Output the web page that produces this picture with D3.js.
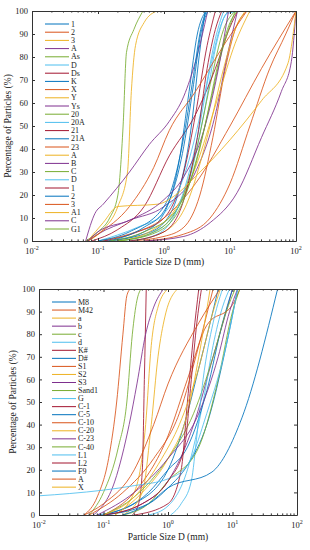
<!DOCTYPE html>
<html>
<head>
<meta charset="utf-8">
<script src="https://cdn.jsdelivr.net/npm/d3@7"></script>
<style>
  body { margin: 0; background: #fff; }
  svg text { font-family: "Liberation Serif", "Times New Roman", serif; fill: #222; }
</style>
</head>
<body>
<svg width="310" height="550"></svg>
<script>
// MATLAB default line colours
var colors = ['#0072BD', '#D95319', '#EDB120', '#7E2F8E', '#77AC30', '#4DBEEE', '#A2142F'];

var xTicks = [0.01, 0.1, 1, 10, 100];
var xExp = ['-2', '-1', '0', '1', '2'];
var yTicks = [0, 10, 20, 30, 40, 50, 60, 70, 80, 90, 100];

var topNames = ['1', '2', '3', 'A', 'As', 'D', 'Ds', 'K', 'X', 'Y', 'Ys', '20', '20A', '21', '21A', '23',
  'A', 'B', 'C', 'D', '1', '2', '3', 'A1', 'C', 'G1'];

// [particle size (mm), percentage passing]
var topCurves = [
  [[0.12, 0], [0.5, 3], [1, 8], [1.8, 25], [2.6, 50], [3.4, 80], [4.2, 100]],
  [[0.3, 0], [1, 2], [2, 6], [3.5, 20], [5.5, 45], [8.5, 75], [12, 92], [18, 100]],
  [[0.07, 0], [0.12, 5], [0.2, 15], [0.28, 30], [0.32, 65], [0.37, 85], [0.5, 95], [0.78, 100]],
  [[0.07, 0], [0.1, 3], [0.3, 9], [1, 15], [3, 30], [6, 55], [9, 80], [13, 100]],
  [[0.065, 0], [0.1, 4], [0.15, 10], [0.2, 20], [0.24, 50], [0.27, 82], [0.35, 92], [0.48, 100]],
  [[0.2, 0], [0.6, 3], [1.2, 9], [2.5, 28], [4, 55], [6.5, 88], [9, 99], [19, 100]],
  [[0.12, 0], [0.4, 4], [1, 10], [2, 30], [3, 55], [4.5, 85], [6, 100]],
  [[0.15, 0], [0.5, 4], [1, 12], [1.7, 35], [2.4, 65], [3.2, 90], [4.3, 100]],
  [[0.1, 0], [0.3, 3], [1, 10], [3, 25], [10, 50], [30, 75], [100, 100]],
  [[0.2, 0], [0.6, 4], [1.5, 14], [3, 32], [6.5, 62], [12, 86], [20, 100]],
  [[0.065, 0], [0.09, 12], [0.12, 16], [0.3, 30], [0.6, 42], [1.2, 52], [2, 63], [3, 78], [4.6, 100]],
  [[0.2, 0], [0.7, 4], [1.6, 14], [3, 38], [5, 68], [8, 92], [12, 100]],
  [[0.1, 0], [0.4, 6], [1, 12], [2, 28], [4, 62], [6, 88], [8, 100]],
  [[0.08, 0], [0.2, 5], [0.5, 15], [1.2, 37], [3, 55], [6, 75], [10, 93], [13, 100]],
  [[0.15, 0], [0.5, 6], [1, 13], [1.9, 38], [2.8, 68], [3.6, 90], [4.6, 100]],
  [[0.5, 0], [2, 3], [5, 10], [10, 25], [20, 50], [40, 75], [70, 90], [100, 100]],
  [[0.3, 0], [1, 4], [2.2, 16], [4.5, 45], [8, 75], [12, 92], [17, 100]],
  [[0.5, 0], [2, 2], [5, 8], [12.8, 21], [30, 45], [60, 65], [85, 78], [100, 100]],
  [[0.15, 0], [0.5, 4], [1.5, 13], [3, 33], [5, 60], [8, 85], [12, 100]],
  [[0.3, 0], [0.8, 3], [1.6, 14], [3.2, 45], [5, 75], [7.5, 95], [9.5, 100]],
  [[0.3, 0], [1, 4], [2, 18], [3.2, 45], [4.5, 75], [6, 92], [7.5, 100]],
  [[0.1, 0], [0.3, 4], [1, 15], [1.9, 42], [2.8, 72], [3.6, 92], [4.4, 100]],
  [[0.07, 0], [0.1, 3], [0.3, 15], [0.7, 32], [1.2, 48], [3, 65], [8, 85], [18, 100]],
  [[0.07, 0], [0.12, 8], [0.2, 15], [0.8, 16], [1.5, 20], [3, 28], [10, 44], [30, 61], [75, 77], [100, 100]],
  [[0.07, 0], [0.1, 4], [0.3, 9], [1, 18], [2, 28], [4, 48], [7, 78], [9.5, 100]],
  [[0.2, 0], [0.8, 4], [2, 18], [4, 48], [7, 80], [10, 95], [13, 100]]
];

var bottomNames = ['M8', 'M42', 'a', 'b', 'c', 'd', 'K#', 'D#', 'S1', 'S2', 'S3', 'Sand1', 'G', 'C-1', 'C-5',
  'C-10', 'C-20', 'C-23', 'C-40', 'L1', 'L2', 'F9', 'A', 'X'];

var bottomCurves = [
  [[0.08, 0], [0.3, 5], [1, 20], [2, 45], [3, 65], [4.5, 85], [6, 100]],
  [[0.05, 0], [0.08, 8], [0.12, 25], [0.16, 50], [0.2, 80], [0.23, 97], [0.26, 100]],
  [[0.15, 0], [0.3, 10], [0.45, 40], [0.55, 75], [0.7, 92], [1.0, 100]],
  [[0.1, 0], [0.4, 5], [1, 15], [2.5, 40], [5, 70], [8, 90], [10, 100]],
  [[0.06, 0], [0.1, 10], [0.17, 30], [0.23, 50], [0.28, 80], [0.33, 95], [0.38, 100]],
  [[0.5, 0], [1, 4], [2, 20], [3.5, 50], [5, 75], [7, 92], [9, 100]],
  [[0.28, 0], [0.35, 5], [0.4, 20], [0.43, 60], [0.46, 100]],
  [[0.1, 0], [0.5, 10], [1, 20], [2, 30], [4, 55], [7, 85], [10, 100]],
  [[0.1, 0], [0.3, 10], [1, 35], [2, 60], [4, 84], [10, 93], [13, 100]],
  [[0.2, 0], [0.4, 10], [0.55, 40], [0.7, 70], [0.9, 88], [1.4, 100]],
  [[0.07, 0], [0.15, 15], [0.25, 40], [0.33, 58], [0.45, 80], [0.6, 92], [0.85, 100]],
  [[0.1, 0], [0.3, 8], [1, 25], [2.5, 45], [5, 70], [8, 90], [11, 100]],
  [[1.1, 0], [1.6, 5], [2.3, 15], [2.8, 35], [3.5, 60], [5, 85], [7, 100]],
  [[0.3, 0], [1, 5], [1.6, 20], [2, 50], [2.5, 80], [3, 100]],
  [[0.1, 0], [0.5, 5], [1, 12], [2, 22], [4, 40], [8, 75], [12, 100]],
  [[0.06, 0], [0.2, 10], [0.6, 25], [1.5, 45], [3, 75], [5, 100]],
  [[0.15, 0], [0.4, 10], [1, 25], [2, 45], [3, 70], [4.5, 100]],
  [[0.08, 0], [0.3, 10], [1, 25], [3, 45], [6, 70], [9, 90], [12, 100]],
  [[0.2, 0], [0.5, 5], [1, 15], [3, 30], [6, 60], [10, 90], [13, 100]],
  [[0.01, 8.5], [0.03, 9.5], [0.1, 11], [0.3, 13], [1, 16], [2, 22], [4, 45], [8, 75], [12, 100]],
  [[0.1, 0], [0.4, 5], [1, 15], [1.8, 30], [2.3, 60], [2.8, 85], [3.3, 100]],
  [[0.2, 0], [0.5, 5], [1, 12], [4.8, 19], [14, 43], [50, 100]],
  [[0.05, 0], [0.1, 5], [0.3, 20], [0.6, 40], [1, 58], [3, 85], [6.4, 100]],
  [[0.1, 0], [0.3, 8], [0.8, 25], [1.5, 40], [3, 65], [5, 90], [6.5, 100]]
];

var svg = d3.select('svg');

var panels = [
  { names: topNames, curves: topCurves, left: 32, right: 296, top: 11, bottom: 241,
    legendY: 24, legendStep: 8.2, legendX: 45, xLabelY: 265, yLabelX: 11 },
  { names: bottomNames, curves: bottomCurves, left: 39, right: 297, top: 289, bottom: 515,
    legendY: 302, legendStep: 8.05, legendX: 52, xLabelY: 540, yLabelX: 16 }
];

panels.forEach(function(p) {
  drawPanel(p);
});

function drawPanel(p) {
  var x = d3.scaleLog().domain([0.01, 100]).range([p.left, p.right]);
  var y = d3.scaleLinear().domain([0, 100]).range([p.bottom, p.top]);

  var g = svg.append('g');

  // clip so curves stay in the box
  var clipId = 'clip' + p.top;
  g.append('clipPath').attr('id', clipId)
    .append('rect')
    .attr('x', p.left).attr('y', p.top)
    .attr('width', p.right - p.left).attr('height', p.bottom - p.top);

  var line = d3.line()
    .x(function(d) { return x(d[0]); })
    .y(function(d) { return y(d[1]); })
    .curve(d3.curveMonotoneX);

  g.append('g')
    .attr('clip-path', 'url(#' + clipId + ')')
    .selectAll('path')
    .data(p.curves)
    .enter()
    .append('path')
    .attr('d', line)
    .attr('fill', 'none')
    .attr('stroke', function(d, i) { return colors[i % 7]; })
    .attr('stroke-width', 0.85);

  // minor ticks for log axis
  var minor = [];
  for (var e = -2; e < 2; e++) {
    for (var m = 2; m <= 9; m++) minor.push(m * Math.pow(10, e));
  }

  var axisColor = '#333';

  // bottom axis
  var bx = g.append('g').attr('transform', 'translate(0,' + p.bottom + ')')
    .call(d3.axisBottom(x).tickValues(xTicks).tickSizeInner(-3).tickSizeOuter(0).tickFormat(''));
  bx.append('g').selectAll('line').data(minor).enter().append('line')
    .attr('x1', function(d) { return x(d); }).attr('x2', function(d) { return x(d); })
    .attr('y1', 0).attr('y2', -1.6).attr('stroke', axisColor);
  var lab = bx.selectAll('.lab').data(xTicks).enter().append('text')
    .attr('class', 'lab')
    .attr('x', function(d) { return x(d); })
    .attr('y', 13)
    .attr('text-anchor', 'middle')
    .attr('font-size', 8.5);
  lab.append('tspan').text('10');
  lab.append('tspan').attr('dy', -4).attr('font-size', 6).text(function(d, i) { return xExp[i]; });

  // top axis
  var tx = g.append('g').attr('transform', 'translate(0,' + p.top + ')')
    .call(d3.axisTop(x).tickValues(xTicks).tickSizeInner(-3).tickSizeOuter(0).tickFormat(''));
  tx.append('g').selectAll('line').data(minor).enter().append('line')
    .attr('x1', function(d) { return x(d); }).attr('x2', function(d) { return x(d); })
    .attr('y1', 0).attr('y2', 1.6).attr('stroke', axisColor);

  // left axis
  g.append('g').attr('transform', 'translate(' + p.left + ',0)')
    .call(d3.axisLeft(y).tickValues(yTicks).tickSizeInner(-3).tickSizeOuter(0).tickPadding(4))
    .selectAll('text').attr('font-size', 8.5);

  // right axis
  g.append('g').attr('transform', 'translate(' + p.right + ',0)')
    .call(d3.axisRight(y).tickValues(yTicks).tickSizeInner(-3).tickSizeOuter(0).tickFormat(''));

  g.selectAll('.domain').attr('stroke', axisColor);
  g.selectAll('.tick line').attr('stroke', axisColor);
  g.selectAll('.tick text').attr('font-family', '"Liberation Serif", serif').attr('fill', '#222');

  // axis titles
  g.append('text')
    .attr('x', (p.left + p.right) / 2)
    .attr('y', p.xLabelY)
    .attr('text-anchor', 'middle')
    .attr('font-size', 9.5)
    .text('Particle Size D (mm)');

  g.append('text')
    .attr('transform', 'translate(' + p.yLabelX + ',' + (p.top + p.bottom) / 2 + ') rotate(-90)')
    .attr('text-anchor', 'middle')
    .attr('font-size', 9.5)
    .text('Percentage of Particles (%)');

  // legend
  var leg = g.append('g').selectAll('g')
    .data(p.names)
    .enter()
    .append('g')
    .attr('transform', function(d, i) {
      return 'translate(' + p.legendX + ',' + (p.legendY + i * p.legendStep) + ')';
    });
  leg.append('line')
    .attr('x1', 0).attr('x2', 24)
    .attr('stroke', function(d, i) { return colors[i % 7]; })
    .attr('stroke-width', 1);
  leg.append('text')
    .attr('x', 26)
    .attr('dy', '0.33em')
    .attr('font-size', 8)
    .text(function(d) { return d; });
}
</script>
</body>
</html>
